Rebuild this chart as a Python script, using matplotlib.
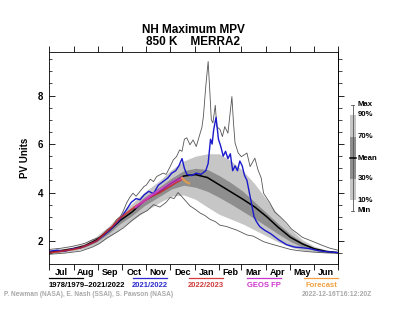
import numpy as np
import matplotlib
matplotlib.use("Agg")
import matplotlib.pyplot as plt
from matplotlib.ticker import MultipleLocator, FixedLocator, NullFormatter

plt.rcParams['font.family'] = ['Liberation Sans', 'DejaVu Sans']
plt.rcParams['font.weight'] = 'bold'

# days counted from Jul 1
month_starts = [0, 31, 62, 92, 123, 153, 184, 215, 243, 274, 304, 335, 365]
month_labels = ['Jul', 'Aug', 'Sep', 'Oct', 'Nov', 'Dec', 'Jan', 'Feb', 'Mar', 'Apr', 'May', 'Jun']

# climatology 1978/1979-2021/2022
clim_day = [0, 15, 30, 45, 60, 75, 90, 105, 120, 140, 155, 170, 185, 200, 215, 230, 245,
            260, 275, 290, 305, 320, 335, 350, 365]
clim_mean = [1.55, 1.6, 1.68, 1.8, 2.05, 2.4, 2.85, 3.2, 3.65, 4.05, 4.4, 4.68, 4.74, 4.62, 4.32,
             4.02, 3.72, 3.4, 3.0, 2.55, 2.15, 1.88, 1.68, 1.57, 1.52]
clim_p90 = [1.62, 1.68, 1.75, 1.9, 2.2, 2.6, 3.1, 3.55, 4.0, 4.5, 4.95, 5.3, 5.5, 5.6, 5.6,
            5.3, 4.9, 4.35, 3.7, 3.05, 2.5, 2.05, 1.78, 1.63, 1.56]
clim_p70 = [1.58, 1.63, 1.7, 1.84, 2.1, 2.48, 2.95, 3.35, 3.8, 4.25, 4.6, 4.9, 5.0, 4.95, 4.7,
            4.4, 4.05, 3.6, 3.15, 2.7, 2.28, 1.95, 1.72, 1.6, 1.54]
clim_p30 = [1.52, 1.56, 1.64, 1.75, 1.96, 2.3, 2.72, 3.05, 3.45, 3.85, 4.15, 4.3, 4.22, 4.05, 3.8,
            3.52, 3.22, 2.92, 2.6, 2.28, 1.98, 1.75, 1.62, 1.55, 1.5]
clim_p10 = [1.48, 1.52, 1.58, 1.68, 1.85, 2.15, 2.5, 2.85, 3.2, 3.6, 3.85, 3.9, 3.72, 3.4, 3.1,
            2.9, 2.7, 2.45, 2.2, 1.95, 1.75, 1.62, 1.55, 1.5, 1.48]

max_day = [0, 15, 30, 45, 55, 64, 73, 80, 85, 90, 94, 98, 102, 106, 110, 115, 120, 123, 128, 132,
           136, 140, 144, 148, 153, 157, 161, 165, 168, 171, 174, 178, 182, 186, 191, 193, 195,
           198, 201, 203, 205, 207, 210, 212, 216, 219, 222, 226, 231, 233, 235, 239, 243, 250,
           254, 260, 264, 268, 271, 279, 285, 292, 300, 306, 313, 320, 334, 345, 355, 365]
max_val = [1.65, 1.7, 1.78, 1.9, 2.05, 2.15, 2.45, 2.6, 2.87, 3.0, 3.25, 3.57, 3.8, 3.97, 3.85,
           4.05, 4.25, 4.31, 4.55, 4.45, 4.66, 4.73, 4.8, 4.75, 5.07, 5.35, 5.48, 5.76, 5.7, 6.2,
           6.26, 5.97, 6.17, 5.9, 6.46, 6.67, 7.14, 8.38, 9.41, 8.24, 7.0, 6.87, 7.6, 6.72, 6.6,
           6.31, 6.72, 6.45, 7.96, 6.87, 6.04, 5.63, 5.48, 5.63, 5.07, 5.42, 4.93, 4.6, 3.97,
           3.57, 3.2, 3.0, 2.74, 2.5, 2.33, 2.15, 1.97, 1.82, 1.7, 1.62]

min_day = [0, 20, 40, 55, 64, 73, 85, 94, 105, 115, 124, 132, 140, 148, 153, 158, 163, 170, 178,
           185, 191, 197, 203, 210, 216, 224, 229, 237, 241, 250, 258, 271, 280, 292, 305, 315,
           330, 345, 365]
min_val = [1.45, 1.5, 1.58, 1.75, 1.9, 2.12, 2.35, 2.54, 2.85, 3.1, 3.25, 3.5, 3.4, 3.6, 3.8,
           3.75, 4.0, 3.75, 3.45, 3.3, 3.15, 3.05, 2.9, 2.8, 2.65, 2.6, 2.54, 2.45, 2.39, 2.25,
           2.2, 1.97, 1.88, 1.77, 1.65, 1.6, 1.55, 1.52, 1.5]

# 2021/2022
y2122_day = [0, 10, 20, 30, 40, 50, 60, 70, 80, 90, 98, 104, 110, 115, 120, 126, 132, 138, 144,
             150, 155, 160, 164, 168, 171, 174, 180, 186, 192, 198, 201, 204, 206, 208, 211, 214,
             217, 220, 223, 226, 229, 232, 235, 238, 241, 244, 247, 250, 253, 256, 259, 262, 266,
             272, 280, 290, 300, 310, 320, 330, 340, 350, 365]
y2122_val = [1.57, 1.62, 1.58, 1.68, 1.72, 1.85, 2.0, 2.25, 2.55, 2.9, 3.3, 3.6, 3.75, 3.7, 3.9,
             4.05, 3.95, 4.3, 4.45, 4.6, 4.8, 4.9, 5.1, 5.4, 5.0, 4.75, 4.7, 4.8, 4.75, 4.9, 5.2,
             6.2, 6.0, 6.6, 7.1, 6.2, 5.9, 5.5, 5.7, 5.4, 5.6, 4.9, 5.1, 4.9, 5.3, 5.1, 4.7, 4.5,
             4.0, 3.5, 3.0, 2.8, 2.6, 2.45, 2.3, 2.05, 1.85, 1.75, 1.72, 1.68, 1.6, 1.56, 1.52]

# 2022/2023 (to Dec 16)
y2223_day = [0, 10, 20, 30, 40, 50, 60, 70, 80, 90, 100, 110, 120, 130, 140, 150, 160, 168]
y2223_val = [1.52, 1.55, 1.6, 1.65, 1.72, 1.85, 2.0, 2.3, 2.6, 2.95, 3.2, 3.45, 3.65, 3.85, 4.0,
             4.2, 4.4, 4.55]

geos_day = [110, 120, 130, 140, 150, 160, 168]
geos_val = [3.4, 3.65, 3.9, 4.1, 4.3, 4.5, 4.6]

fcst_day = [168, 171, 174, 177]
fcst_val = [4.6, 4.5, 4.42, 4.38]

light = '#c6c6c6'
dark = '#8e8e8e'

fig = plt.figure(figsize=(4.0, 3.28), dpi=100)
ax = fig.add_axes([49 / 400, 1 - 264 / 328, 289 / 400, 212 / 328])

ax.fill_between(clim_day, clim_p10, clim_p90, color=light, lw=0)
ax.fill_between(clim_day, clim_p30, clim_p70, color=dark, lw=0)
ax.plot(max_day, max_val, color='#555555', lw=0.6)
ax.plot(min_day, min_val, color='#555555', lw=0.6)
ax.plot(clim_day, clim_mean, color='black', lw=1.1)
ax.plot(y2122_day, y2122_val, color='#1a1acc', lw=1.0)
ax.plot(y2223_day, y2223_val, color='#cc2020', lw=1.3, alpha=0.8)
ax.plot(geos_day, geos_val, color='#e040e0', lw=2.0, alpha=0.7)
ax.plot(fcst_day, fcst_val, color='#f0a040', lw=1.6, alpha=0.8)

ax.set_xlim(0, 365)
ax.set_ylim(1.05, 9.8)
ax.xaxis.set_major_locator(FixedLocator(month_starts))
ax.xaxis.set_major_formatter(NullFormatter())
mids = [(month_starts[i] + month_starts[i + 1]) / 2 for i in range(12)]
ax.xaxis.set_minor_locator(FixedLocator(mids))
ax.set_xticklabels(month_labels, minor=True)
ax.tick_params(axis='x', which='major', direction='out', length=4, width=0.6, top=True)
ax.tick_params(axis='x', which='minor', length=0, labelsize=6.5, pad=3)

ax.yaxis.set_major_locator(FixedLocator([2, 4, 6, 8]))
ax.yaxis.set_minor_locator(MultipleLocator(0.5))
ax.tick_params(axis='y', which='major', direction='in', length=4, width=0.6, labelsize=7, pad=4)
ax.tick_params(axis='y', which='minor', direction='in', length=2, width=0.5)
sec = ax.secondary_yaxis('right')
sec.yaxis.set_major_locator(FixedLocator([2, 4, 6, 8]))
sec.yaxis.set_minor_locator(MultipleLocator(0.5))
sec.yaxis.set_major_formatter(NullFormatter())
sec.tick_params(which='major', direction='out', length=4, width=0.6)
sec.tick_params(which='minor', direction='out', length=3, width=0.5)
sec.spines['right'].set_linewidth(0.6)
for s in ax.spines.values():
    s.set_linewidth(0.6)
ax.set_ylabel('PV Units', fontsize=7, fontweight='bold', labelpad=6)

def fx(px):
    return px / 400

def fy(py):
    return 1 - py / 328

fig.text(fx(193.5), fy(30), 'NH Maximum MPV', ha='center', va='center', fontsize=8.5, fontweight='bold')
fig.text(fx(193.5), fy(42), '850 K    MERRA2', ha='center', va='center', fontsize=8.5, fontweight='bold')

# bottom legend
leg_names = ['1978/1979\u20132021/2022', '2021/2022', '2022/2023', 'GEOS FP', 'Forecast']
leg_colors = ['black', '#2a2acc', '#d03a3a', '#cc33cc', '#f0a040']
leg_x = [49, 133, 189, 247, 304]
for i in range(len(leg_names)):
    x0 = leg_x[i]
    fig.add_artist(plt.Line2D([fx(x0), fx(x0 + 34)], [fy(278), fy(278)], color=leg_colors[i], lw=0.9))
    if i == 0:
        fig.text(fx(x0), fy(285.5), leg_names[i], ha='left', va='center', fontsize=5.5,
                 fontweight='bold', color=leg_colors[i])
    else:
        fig.text(fx(x0 + 17), fy(285.5), leg_names[i], ha='center', va='center', fontsize=5.5,
                 fontweight='bold', color=leg_colors[i])

fig.text(fx(4), fy(294.5), 'P. Newman (NASA), E. Nash (SSAI), S. Pawson (NASA)', ha='left',
         va='center', fontsize=4.7, fontweight='bold', color='#a8a8a8')
fig.text(fx(372), fy(294.5), '2022-12-16T16:12:20Z', ha='right', va='center', fontsize=4.9,
         fontweight='bold', color='#a8a8a8')

# right-hand key
key_labels = ['Max', '90%', '70%', 'Mean', '30%', '10%', 'Min']
key_y = [105, 115, 137, 158, 179, 200, 211]
fig.add_artist(plt.Line2D([fx(352.5), fx(352.5)], [fy(105), fy(211)], color='#555555', lw=0.6))
fig.add_artist(plt.Line2D([fx(351), fx(354)], [fy(105), fy(105)], color='#555555', lw=0.6))
fig.add_artist(plt.Line2D([fx(351), fx(354)], [fy(211), fy(211)], color='#555555', lw=0.6))
fig.add_artist(plt.Rectangle((fx(350), fy(200)), fx(5.5), 85 / 328, color=light, lw=0))
fig.add_artist(plt.Rectangle((fx(350), fy(179)), fx(5.5), 42 / 328, color=dark, lw=0))
fig.add_artist(plt.Line2D([fx(350), fx(355.5)], [fy(158), fy(158)], color='black', lw=1.1))
for lab, yy in zip(key_labels, key_y):
    fig.text(fx(357.5), fy(yy), lab, ha='left', va='center', fontsize=5.6, fontweight='bold')

fig.savefig('out.png', dpi=100)
